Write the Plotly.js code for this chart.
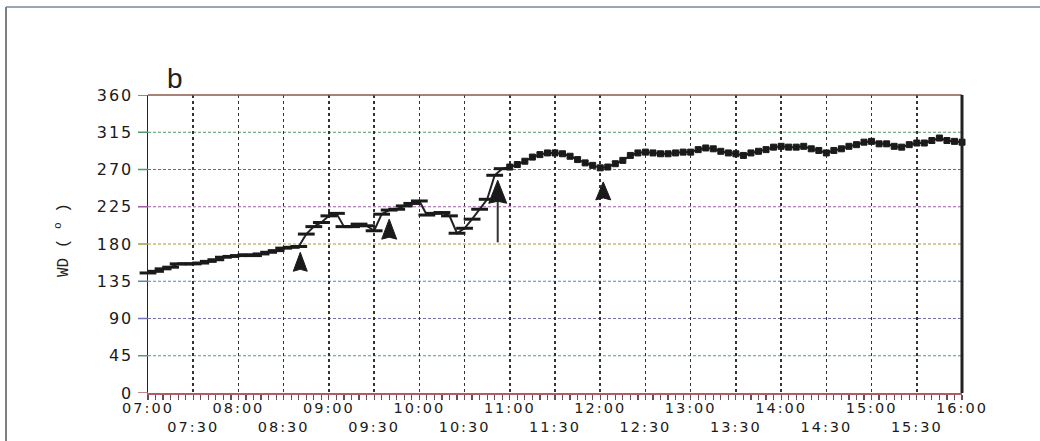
<!DOCTYPE html>
<html><head><meta charset="utf-8">
<script src="https://cdn.plot.ly/plotly-3.0.1.min.js"></script>
<style>
html,body{margin:0;padding:0;background:#fff;}
#chart{width:1040px;height:441px;}
.xtick text, .ytick text {letter-spacing: 2px;}
</style></head><body><div id="chart"></div>
<script>
// ---------- data ----------
const startTime = '07:00';
const stepMinutes = 5;
const wdValues = [
 145,147,150,152,156,156,156,157,159,161,164,165,   // 07:00-07:55
 166,167,166,168,170,172,175,176,177,192,201,206,   // 08:00-08:55
 214,217,201,201,204,202,196,216,221,222,226,229,   // 09:00-09:55
 232,215,217,218,214,193,199,210,222,234,263,271,   // 10:00-10:55
 273,276,280,285,288,290,290,289,286,282,278,275,   // 11:00-11:55
 272,273,277,281,287,290,291,290,289,289,290,291,   // 12:00-12:55
 291,294,296,295,292,290,289,287,290,292,294,297,   // 13:00-13:55
 298,297,297,298,295,293,290,293,295,298,300,303,   // 14:00-14:55
 304,301,301,298,297,300,302,302,305,308,305,304,   // 15:00-15:55
 303                                                // 16:00
];
const tickTimes = ['07:00','07:30','08:00','08:30','09:00','09:30','10:00','10:30','11:00',
  '11:30','12:00','12:30','13:00','13:30','14:00','14:30','15:00','15:30','16:00'];
const yTickVals = [0,45,90,135,180,225,270,315,360];
const gridVals = [45,90,135,180,225,270,315];
const arrowTimes = ['08:41','09:40','10:52','12:02'];
const arrowTipVals = [170,210,257,255];
const shaftTime = '10:52';
const shaftVals = [182,236];
const panelLabel = 'b';
const yTitleText = 'WD ( <sup>o</sup> )';

// ---------- helpers ----------
function toHours(s){const p=s.split(':');return +p[0]+(+p[1])/60;}
const t0 = toHours(startTime);
const times = wdValues.map((v,i)=>t0+i*stepMinutes/60);

// ---------- styles ----------
const M = {l:148, r:78, t:95, b:48};
const plotW = 1040-M.l-M.r, plotH = 441-M.t-M.b;
const gridColors = {45:'#5f9a6f',90:'#7272b2',135:'#5a86b0',180:'#a89a3a',225:'#a05aa8',270:'#5a6aa8',315:'#4f9a6a'};
const tickColors = {0:'#b05a6a',45:'#5f9a6f',90:'#7272b2',135:'#5a86b0',180:'#a89a3a',225:'#a05aa8',270:'#4f9a6a',315:'#4f9a6a',360:'#8a5a4a'};
const arrowSizes = [[14,19],[15,20],[18,23],[15,18]];

const shapes = [];
gridVals.forEach(v=>{
  shapes.push({type:'line',xref:'paper',yref:'y',x0:0,x1:1,y0:v,y1:v,layer:'below',
    line:{color:gridColors[v],width:1.2,dash:'3px,2px'}});
});
yTickVals.forEach(v=>{
  shapes.push({type:'line',xref:'paper',yref:'y',x0:-10/plotW,x1:0,y0:v,y1:v,layer:'above',
    line:{color:tickColors[v],width:1.5}});
});
shapes.push({type:'line',xref:'paper',yref:'paper',x0:0,x1:1,y0:1,y1:1,line:{color:'#8a5a4a',width:1.5}});
shapes.push({type:'line',xref:'paper',yref:'paper',x0:1,x1:1,y0:0,y1:1,line:{color:'#222',width:3}});
const fx = (6-M.l)/plotW, fyTop = (441-M.b-7)/plotH, fyBot = -(M.b+10)/plotH, fxR = (1050-M.l)/plotW;
shapes.push({type:'line',xref:'paper',yref:'paper',x0:fx,x1:fx,y0:fyBot,y1:fyTop,line:{color:'#555',width:1.5}});
shapes.push({type:'line',xref:'paper',yref:'paper',x0:fx,x1:fxR,y0:fyTop,y1:fyTop,line:{color:'#7a8a96',width:1.5}});
shapes.push({type:'line',xref:'x',yref:'y',x0:toHours(shaftTime),x1:toHours(shaftTime),y0:shaftVals[0],y1:shaftVals[1],
  line:{color:'#333',width:2}});
arrowTimes.forEach((t,i)=>{
  const w=arrowSizes[i][0]/2, h=arrowSizes[i][1];
  shapes.push({type:'path',xref:'x',yref:'y',xsizemode:'pixel',ysizemode:'pixel',
    xanchor:toHours(t),yanchor:arrowTipVals[i],
    path:`M0,0 L${w},${-h} L0,${-h+2} L${-w},${-h} Z`,
    fillcolor:'#1a1a1a',line:{color:'#1a1a1a',width:1}});
});

const symbols = times.map(t=> t<11 ? 'line-ew' : 'square');
const sizes = times.map(t=> t<11 ? 12 : 6);
const mlw = times.map(t=> t<11 ? 3 : 1);

const trace = {
  x: times, y: wdValues, type:'scatter', mode:'lines+markers',
  line:{color:'#222',width:2},
  marker:{symbol:symbols,size:sizes,color:'#1a1a1a',opacity:1,line:{color:'#1a1a1a',width:mlw}},
  hoverinfo:'none', cliponaxis:false
};

const tickVals = tickTimes.map(toHours);
const tickText = tickTimes.map((s,i)=> i%2===0 ? s : '<br>'+s);

const layout = {
  width:1040, height:441, margin:M,
  paper_bgcolor:'#fff', plot_bgcolor:'#fff',
  showlegend:false,
  font:{family:'DejaVu Sans, Arial, sans-serif',color:'#222'},
  xaxis:{range:[7,16],tickmode:'array',tickvals:tickVals,ticktext:tickText,tickangle:0,
    ticks:'outside',ticklen:5,tickwidth:1.2,tickcolor:'#6a4a5a',ticklabelstandoff:-4,
    showgrid:true,gridcolor:'#333',gridwidth:1.5,griddash:'dot',
    showline:true,linecolor:'#b05a6a',linewidth:1.5,zeroline:false,
    tickfont:{size:14.5,family:'DejaVu Sans, Arial, sans-serif',color:'#1a1a1a'},
    minor:{tickmode:'linear',tick0:7,dtick:1/12,ticks:'outside',ticklen:5,tickwidth:1.2,tickcolor:'#6a4a5a',showgrid:false},
    fixedrange:true},
  yaxis:{range:[0,360],tickmode:'array',tickvals:yTickVals,ticks:'outside',ticklen:10,tickcolor:'rgba(0,0,0,0)',
    showgrid:false,zeroline:false,showline:true,linecolor:'#222',linewidth:1.5,
    tickfont:{size:16,family:'DejaVu Sans, Arial, sans-serif',color:'#1a1a1a'},fixedrange:true},
  shapes:shapes,
  annotations:[
    {text:panelLabel,xref:'paper',yref:'paper',x:(175-M.l)/plotW,y:(441-M.b-96)/plotH,xanchor:'center',yanchor:'bottom',
     showarrow:false,font:{size:28,family:'Liberation Sans, Arial, sans-serif',color:'#222'}},
    {text:yTitleText,xref:'paper',yref:'paper',x:(62-M.l)/plotW,y:(441-M.b-240)/plotH,xanchor:'center',yanchor:'middle',
     textangle:-90,showarrow:false,font:{size:16,family:'Liberation Mono, DejaVu Sans Mono, monospace',color:'#222'}}
  ]
};

Plotly.newPlot('chart',[trace],layout,{staticPlot:true,displayModeBar:false});
</script></body></html>
